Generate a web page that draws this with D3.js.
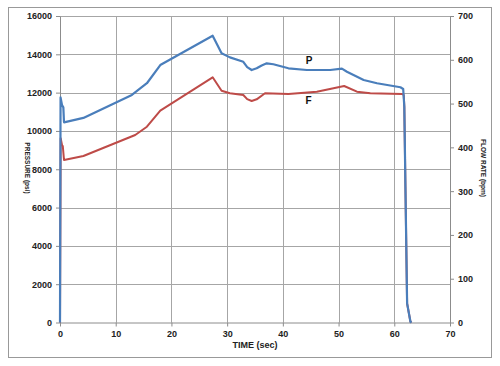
<!DOCTYPE html>
<html><head><meta charset="utf-8">
<script src="https://cdn.jsdelivr.net/npm/d3@7"></script>
<style>body{margin:0;background:#fff}svg{display:block}text{font-family:"Liberation Sans",Arial,sans-serif;font-weight:bold}</style>
</head><body>
<svg id="c" width="500" height="366"></svg>
<script>
// Pressure P (left axis, psi)
const pTime = [0, 0.1, 0.36, 0.6, 0.72, 4.2, 12.9, 15.6, 18, 27.4, 29.0, 30.5, 32.9, 33.6, 34.4, 35.3, 36.2, 37.1, 38.3, 41.0, 44.3, 48.5, 50.6, 51.5, 54.5, 56.9, 61.1, 61.6, 61.8, 62.0, 62.3, 62.9, 63.1];
const pVal  = [0, 11750, 11350, 11230, 10450, 10680, 11880, 12490, 13440, 14970, 14050, 13840, 13610, 13330, 13180, 13270, 13420, 13530, 13480, 13270, 13180, 13180, 13250, 13090, 12660, 12490, 12280, 12190, 11260, 7090, 1000, 40, 0];
// Rate F (right axis)
const fTime = [0, 0.12, 0.36, 0.5, 0.72, 4.2, 13.5, 15.6, 18, 27.4, 29.0, 30.5, 32.9, 33.6, 34.4, 35.3, 36.8, 41, 46.1, 51.0, 53.3, 55.7, 61.4, 61.7, 61.8, 62.0, 62.3, 62.9, 63.1];
const fVal  = [0, 420.7, 405.4, 403.1, 371.1, 380.3, 428.2, 447.2, 483.8, 560, 529.4, 523.5, 519.6, 510, 505.9, 509.7, 523.5, 521.9, 527.1, 540.1, 527.1, 523.5, 521.9, 519.6, 492.6, 310, 43.7, 1.7, 0];
const xTicks = [0, 10, 20, 30, 40, 50, 60, 70];
const yLeftTicks = [0, 2000, 4000, 6000, 8000, 10000, 12000, 14000, 16000];
const yRightTicks = [0, 100, 200, 300, 400, 500, 600, 700];
const seriesLabels = ["P", "F"];
const axisTitles = {x: "TIME (sec)", left: "PRESSURE (psi)", right: "FLOW RATE (bpm)"};

const svg = d3.select("#c");
const L = 60, R = 450, T = 16, B = 322.5;
const x = d3.scaleLinear().domain([0, 70]).range([L, R]);
const yL = d3.scaleLinear().domain([0, 16000]).range([B, T]);
const yR = d3.scaleLinear().domain([0, 700]).range([B, T]);

svg.append("rect").attr("x", 8.5).attr("y", 7.5).attr("width", 483).attr("height", 350)
  .attr("fill", "#fff").attr("stroke", "#999").attr("stroke-width", 1);

// grid
const g = svg.append("g");
g.selectAll(".hg").data(yLeftTicks.slice(1)).join("line")
  .attr("x1", L).attr("x2", R).attr("y1", d => Math.round(yL(d)) + 0.5).attr("y2", d => Math.round(yL(d)) + 0.5)
  .attr("stroke", "#a6a6a6").attr("stroke-width", 1);
g.selectAll(".vg").data(xTicks.slice(1)).join("line")
  .attr("y1", T).attr("y2", B).attr("x1", d => Math.round(x(d)) + 0.5).attr("x2", d => Math.round(x(d)) + 0.5)
  .attr("stroke", "#a6a6a6").attr("stroke-width", 1);

// axes
const fmt = d3.format("d");
const ax = svg.append("g").attr("transform", `translate(0,${B})`)
  .call(d3.axisBottom(x).tickValues(xTicks).tickFormat(fmt).tickSizeInner(4).tickSizeOuter(0).tickPadding(4));
const ayl = svg.append("g").attr("transform", `translate(${L},0)`)
  .call(d3.axisLeft(yL).tickValues(yLeftTicks).tickFormat(fmt).tickSizeInner(4).tickSizeOuter(0).tickPadding(4));
const ayr = svg.append("g").attr("transform", `translate(${R},0)`)
  .call(d3.axisRight(yR).tickValues(yRightTicks).tickFormat(fmt).tickSizeInner(4).tickSizeOuter(0).tickPadding(4));
[ax, ayl, ayr].forEach(a => {
  a.selectAll("path,line").attr("stroke", "#8c8c8c");
  a.selectAll("text").attr("font-size", 9).attr("fill", "#222").attr("font-family", "'Liberation Sans',Arial,sans-serif").attr("font-weight", "bold");
});

// lines
const lineF = d3.line().x((d, i) => x(fTime[i])).y(d => yR(d));
const lineP = d3.line().x((d, i) => x(pTime[i])).y(d => yL(d));
svg.append("path").datum(fVal).attr("d", lineF).attr("fill", "none").attr("stroke", "#be4b48").attr("stroke-width", 2).attr("stroke-linejoin", "round");
svg.append("path").datum(pVal).attr("d", lineP).attr("fill", "none").attr("stroke", "#4a7ebb").attr("stroke-width", 2.2).attr("stroke-linejoin", "round");

// series labels
svg.append("text").attr("x", x(44.7)).attr("y", yL(13470)).attr("text-anchor", "middle").attr("font-size", 10).attr("fill", "#111").text(seriesLabels[0]);
svg.append("text").attr("x", x(44.6)).attr("y", yR(500)).attr("text-anchor", "middle").attr("font-size", 10).attr("fill", "#111").text(seriesLabels[1]);

// axis titles
svg.append("text").attr("x", x(35)).attr("y", 348).attr("text-anchor", "middle").attr("font-size", 9).attr("fill", "#222").text(axisTitles.x);
svg.append("text").attr("transform", "translate(25,168) rotate(90)").attr("text-anchor", "middle").attr("font-size", 6.5).attr("fill", "#222").text(axisTitles.left);
svg.append("text").attr("transform", "translate(481,168) rotate(90)").attr("text-anchor", "middle").attr("font-size", 6.5).attr("fill", "#222").text(axisTitles.right);
</script>
</body></html>
